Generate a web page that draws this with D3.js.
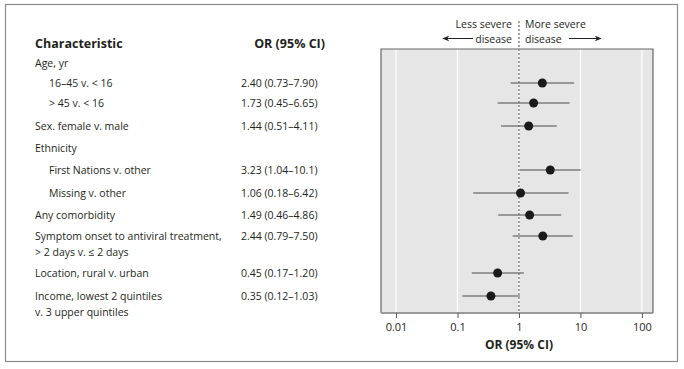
<!DOCTYPE html>
<html><head><meta charset="utf-8">
<script src="https://cdn.jsdelivr.net/npm/d3@7"></script>
<style>body{margin:0;background:#fff}svg{display:block}text{font-family:"Open Sans",sans-serif;fill:#231f20}</style>
</head><body><svg id="c" width="684" height="369"></svg>
<script>
const labels = [["Age, yr"],["16–45 v. < 16"],["> 45 v. < 16"],["Sex. female v. male"],["Ethnicity"],["First Nations v. other"],["Missing v. other"],["Any comorbidity"],["Symptom onset to antiviral treatment,","> 2 days v. ≤ 2 days"],["Location, rural v. urban"],["Income, lowest 2 quintiles","v. 3 upper quintiles"]];
const indent = [0,1,1,0,0,1,1,0,0,0,0];
const rowY = [63,83,103,126,148,170,193,215,236,273,296];
const orText = ["","2.40 (0.73–7.90)","1.73 (0.45–6.65)","1.44 (0.51–4.11)","","3.23 (1.04–10.1)","1.06 (0.18–6.42)","1.49 (0.46–4.86)","2.44 (0.79–7.50)","0.45 (0.17–1.20)","0.35 (0.12–1.03)"];
const orVal = [null,2.40,1.73,1.44,null,3.23,1.06,1.49,2.44,0.45,0.35];
const lo = [null,0.73,0.45,0.51,null,1.04,0.18,0.46,0.79,0.17,0.12];
const hi = [null,7.90,6.65,4.11,null,10.1,6.42,4.86,7.50,1.20,1.03];
const ticks = [0.01,0.1,1,10,100];
const tickLabels = ["0.01","0.1","1","10","100"];

const svg = d3.select("#c");
svg.append("rect").attr("x",5.5).attr("y",4.5).attr("width",672).attr("height",357).attr("fill","none").attr("stroke","#8a8a8a").attr("stroke-width",1.2);

const x = d3.scaleLog().domain([Math.pow(10,-2.244),Math.pow(10,2.18)]).range([381,653]);
const pTop=49, pBot=313;
svg.append("rect").attr("x",381).attr("y",pTop).attr("width",272).attr("height",pBot-pTop).attr("fill","#e6e6e6");
svg.selectAll(".grid").data(ticks).join("line").attr("x1",d=>x(d)).attr("x2",d=>x(d)).attr("y1",pTop).attr("y2",pBot).attr("stroke","#fff").attr("stroke-width",1.2);
svg.append("path").attr("d",`M381,${pBot}V${pTop}H653V${pBot}`).attr("fill","none").attr("stroke","#666").attr("stroke-width",1.2);
const ax = svg.append("g").attr("transform",`translate(0,${pBot})`).call(d3.axisBottom(x).tickValues(ticks).tickFormat((d,i)=>tickLabels[i]).tickSize(5).tickSizeOuter(0).tickPadding(5));
ax.select(".domain").attr("stroke","#9a9a9a").attr("stroke-width",2).attr("d","M381,0H653");
ax.selectAll(".tick line").attr("stroke","#555");
ax.selectAll("text").attr("font-size",11).attr("font-family","Open Sans").attr("fill","#231f20");
svg.append("text").attr("x",x(1)).attr("y",349).attr("text-anchor","middle").attr("font-size",12).attr("font-weight","bold").text("OR (95% CI)");

svg.append("line").attr("x1",x(1)).attr("x2",x(1)).attr("y1",21).attr("y2",pBot).attr("stroke","#888").attr("stroke-width",1.5).attr("stroke-dasharray","2,2");

const rows = d3.range(labels.length).filter(i=>orVal[i]!==null);
svg.selectAll(".ci").data(rows).join("line").attr("x1",i=>x(lo[i])).attr("x2",i=>x(hi[i])).attr("y1",i=>rowY[i]).attr("y2",i=>rowY[i]).attr("stroke","#4a4a4a").attr("stroke-width",1.2);
svg.selectAll(".pt").data(rows).join("circle").attr("cx",i=>x(orVal[i])).attr("cy",i=>rowY[i]).attr("r",4.5).attr("fill","#1a1a1a");

const an = svg.append("g").attr("font-size",10.5);
an.append("text").attr("x",x(1)-7).attr("y",28).attr("text-anchor","end").text("Less severe");
an.append("text").attr("x",x(1)-7).attr("y",42.5).attr("text-anchor","end").text("disease");
an.append("text").attr("x",x(1)+6).attr("y",28).text("More severe");
an.append("text").attr("x",x(1)+6).attr("y",42.5).text("disease");
svg.append("defs").html('<marker id="ah" viewBox="0 0 10 10" refX="9" refY="5" markerWidth="7" markerHeight="7" orient="auto-start-reverse"><path d="M0,1L10,5L0,9L3,5Z" fill="#231f20"/></marker>');
svg.append("line").attr("x1",473).attr("x2",443).attr("y1",38.5).attr("y2",38.5).attr("stroke","#231f20").attr("stroke-width",1).attr("marker-end","url(#ah)");
svg.append("line").attr("x1",569).attr("x2",601).attr("y1",38.5).attr("y2",38.5).attr("stroke","#231f20").attr("stroke-width",1).attr("marker-end","url(#ah)");

svg.append("text").attr("x",35).attr("y",48).attr("font-size",12.5).attr("font-weight","bold").text("Characteristic");
svg.append("text").attr("x",325).attr("y",48).attr("text-anchor","end").attr("font-size",12.5).attr("font-weight","bold").text("OR (95% CI)");
labels.forEach((ls,i)=>{
  ls.forEach((l,j)=>{
    svg.append("text").attr("x",indent[i]?49:35).attr("y",rowY[i]+4+j*16).attr("font-size",10.5).text(l);
  });
  if(orText[i]) svg.append("text").attr("x",241).attr("y",rowY[i]+4).attr("font-size",10.5).text(orText[i]);
});
</script></body></html>
